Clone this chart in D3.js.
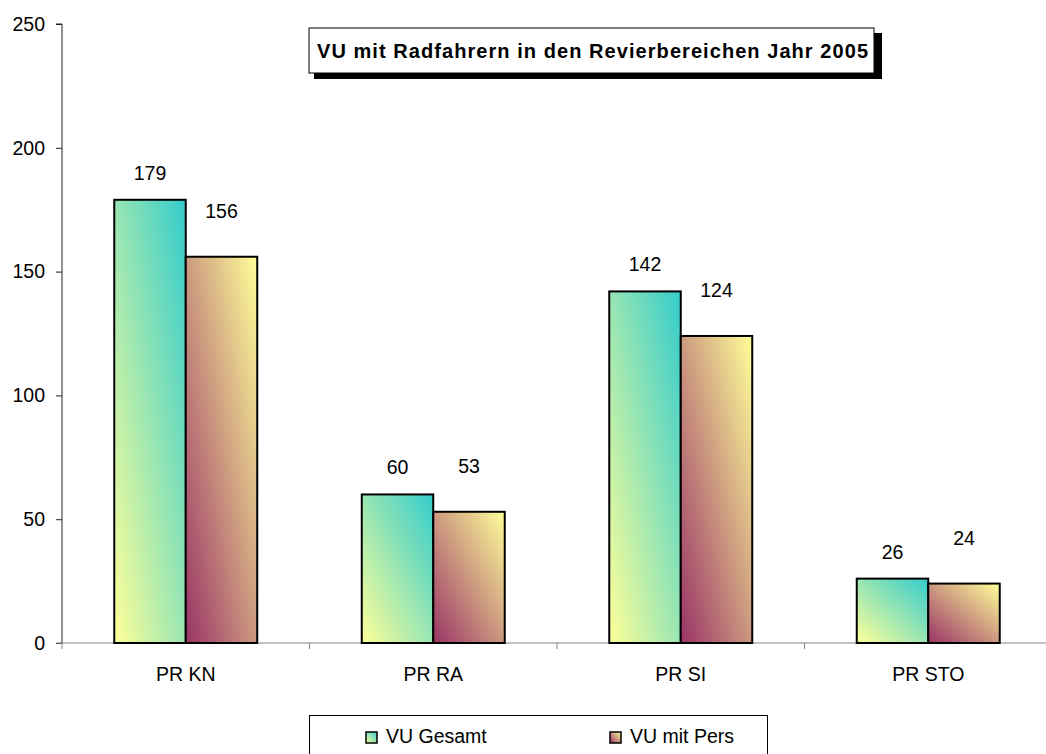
<!DOCTYPE html>
<html><head><meta charset="utf-8">
<script src="https://cdn.jsdelivr.net/npm/d3@7"></script>
<style>body{margin:0;background:#fff}svg{display:block;font-family:"Liberation Sans",Arial,sans-serif}</style>
</head><body><svg id="c" width="1046" height="754"></svg>
<script>
const categories = ["PR KN","PR RA","PR SI","PR STO"];
const seriesNames = ["VU Gesamt","VU mit Pers"];
const vuGesamt = [179,60,142,26];
const vuMitPers = [156,53,124,24];
const yTicks = [0,50,100,150,200,250];
const title = "VU mit Radfahrern in den Revierbereichen Jahr 2005";

const svg = d3.select("#c");
const FS = 19.5;
const m={l:62,r:1052,t:24,b:643};
const x = d3.scaleBand().domain(categories).range([m.l,m.r]).paddingInner(0).paddingOuter(0);
const xs = d3.scaleBand().domain(seriesNames).range([0,x.bandwidth()]).paddingOuter(0.731).paddingInner(0);
const y = d3.scaleLinear().domain([0,250]).range([m.b,m.t]);

const defs = svg.append("defs");
function grad(id,c0,c1){
  const g=defs.append("linearGradient").attr("id",id).attr("x1",0).attr("y1",1).attr("x2",1).attr("y2",0);
  g.append("stop").attr("offset","0%").attr("stop-color",c0);
  g.append("stop").attr("offset","100%").attr("stop-color",c1);
}
grad("g0","#FFFF99","#33CCCC");
grad("g1","#993366","#FFFF99");
const fills=["url(#g0)","url(#g1)"];

// axes
const yAxis = svg.append("g").attr("transform",`translate(${m.l},0)`)
  .call(d3.axisLeft(y).tickValues(yTicks).tickSize(6).tickPadding(11));
yAxis.attr("font-size",null).attr("font-family",null);
yAxis.select(".domain").attr("stroke","#222").attr("d",`M-6,${m.t}H0V${m.b}`);
yAxis.selectAll(".tick line").attr("stroke","#222");
yAxis.selectAll("text").attr("font-size",FS).attr("fill","#000");

const xAxis = svg.append("g").attr("transform",`translate(0,${m.b})`);
xAxis.append("line").attr("x1",m.l-6).attr("x2",m.r).attr("stroke","#888").attr("stroke-width",1.2);
const bounds = categories.map(c=>x(c)).concat([m.r]);
xAxis.selectAll("line.tk").data(bounds).join("line").attr("class","tk")
  .attr("x1",d=>d).attr("x2",d=>d).attr("y1",0).attr("y2",6).attr("stroke","#888");
xAxis.selectAll("text").data(categories).join("text")
  .attr("x",d=>x(d)+x.bandwidth()/2).attr("y",38).attr("text-anchor","middle")
  .attr("font-size",FS).text(d=>d);

// bars
const series=[vuGesamt,vuMitPers];
const labelOff=[20,39];
series.forEach((vals,si)=>{
  const g=svg.append("g");
  g.selectAll("rect").data(categories).join("rect")
    .attr("x",(c)=>x(c)+xs(seriesNames[si]))
    .attr("y",(c,i)=>y(vals[i]))
    .attr("width",xs.bandwidth())
    .attr("height",(c,i)=>y(0)-y(vals[i]))
    .attr("fill",fills[si]).attr("stroke","#000").attr("stroke-width",2);
  g.selectAll("text").data(categories).join("text")
    .attr("x",(c)=>x(c)+xs(seriesNames[si])+xs.bandwidth()/2)
    .attr("y",(c,i)=>y(vals[i])-labelOff[si])
    .attr("text-anchor","middle").attr("font-size",FS).text((c,i)=>vals[i]);
});

// title
const tb={x:309,y:28,w:565,h:45};
svg.append("rect").attr("x",tb.x+5).attr("y",tb.y+5).attr("width",tb.w+3).attr("height",tb.h+1).attr("fill","#000");
svg.append("rect").attr("x",tb.x).attr("y",tb.y).attr("width",tb.w).attr("height",tb.h).attr("fill","#fff").attr("stroke","#000").attr("stroke-width",1);
svg.append("text").attr("x",317).attr("y",57.5).attr("font-size",20).attr("font-weight","bold")
  .attr("textLength",551).attr("lengthAdjust","spacing").text(title);

// legend
const lg=svg.append("g");
lg.append("rect").attr("x",309.5).attr("y",715.5).attr("width",458).attr("height",50).attr("fill","#fff").attr("stroke","#000");
const lx=[366,610];
seriesNames.forEach((n,i)=>{
  lg.append("rect").attr("x",lx[i]).attr("y",732).attr("width",11).attr("height",11).attr("fill",fills[i]).attr("stroke","#000").attr("stroke-width",1.5);
  lg.append("text").attr("x",lx[i]+20).attr("y",742.5).attr("font-size",FS).text(n);
});
</script></body></html>
